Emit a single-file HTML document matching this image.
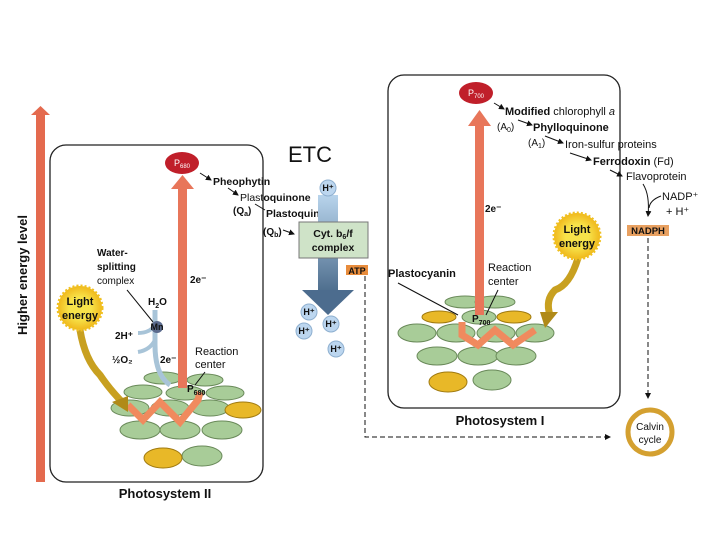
<!DOCTYPE html>
<html><head><meta charset="utf-8"><style>
html,body{margin:0;padding:0;background:#fff;width:720px;height:540px;overflow:hidden}
text{font-family:"Liberation Sans",sans-serif;fill:#111}
.b{font-weight:bold}
</style></head><body>
<svg width="720" height="540" viewBox="0 0 720 540" xmlns="http://www.w3.org/2000/svg">
<defs>
<marker id="ah" markerWidth="6" markerHeight="6" refX="5" refY="3" orient="auto"><path d="M0,0 L6,3 L0,6 z" fill="#111"/></marker>
<linearGradient id="bl" x1="0" y1="0" x2="0" y2="1"><stop offset="0" stop-color="#b8d4ec"/><stop offset="1" stop-color="#4a6a8a"/></linearGradient>
<radialGradient id="sun"><stop offset="0.5" stop-color="#f7e34a"/><stop offset="1" stop-color="#f0b81c"/></radialGradient>
</defs>
<rect x="36" y="114" width="9" height="368" fill="#e46a4e"/>
<path d="M31,115 L40.5,106 L50,115 z" fill="#e46a4e"/>
<text class="b" font-size="13" transform="translate(27,275) rotate(-90)" text-anchor="middle">Higher energy level</text>

<rect x="50" y="145" width="213" height="337" rx="16" fill="none" stroke="#222" stroke-width="1.3"/>
<text class="b" x="165" y="498" font-size="13" text-anchor="middle">Photosystem II</text>
<g stroke="#6a8a5a" stroke-width="1" fill="#a8cc98">
<ellipse cx="163" cy="378" rx="19" ry="6"/><ellipse cx="205" cy="380" rx="18" ry="6"/>
<ellipse cx="143" cy="392" rx="19" ry="7"/><ellipse cx="185" cy="393" rx="19" ry="7"/><ellipse cx="225" cy="393" rx="19" ry="7"/>
<ellipse cx="130" cy="408" rx="19" ry="8"/><ellipse cx="170" cy="408" rx="19" ry="8"/><ellipse cx="210" cy="408" rx="19" ry="8"/>
<ellipse cx="140" cy="430" rx="20" ry="9"/><ellipse cx="180" cy="430" rx="20" ry="9"/><ellipse cx="222" cy="430" rx="20" ry="9"/>
<ellipse cx="202" cy="456" rx="20" ry="10"/>
</g>
<g stroke="#a07a10" fill="#e8b828"><ellipse cx="243" cy="410" rx="18" ry="8"/><ellipse cx="163" cy="458" rx="19" ry="10"/></g>
<path d="M128,405 L143,420 L160,402 L180,422 L198,400 L200,392" fill="none" stroke="#f08a5e" stroke-width="7"/>
<path d="M155,310 L155,345 Q155,375 170,385" fill="none" stroke="#a8c4d8" stroke-width="5"/>
<path d="M155,325 Q150,333 138,333 M155,340 Q150,350 138,352" fill="none" stroke="#a8c4d8" stroke-width="4"/>
<circle cx="157" cy="327" r="6" fill="#5a6a8c"/>
<text class="b" x="157" y="330" font-size="9" text-anchor="middle">Mn</text>
<line x1="127" y1="290" x2="153" y2="322" stroke="#111"/>
<text class="b" x="97" y="256" font-size="10">Water-</text>
<text class="b" x="97" y="270" font-size="10">splitting</text>
<text x="97" y="284" font-size="10">complex</text>
<text class="b" x="148" y="305" font-size="10">H<tspan font-size="7" dy="3">2</tspan><tspan dy="-3">O</tspan></text>
<text class="b" x="115" y="339" font-size="10">2H⁺</text>
<text class="b" x="112" y="363" font-size="10">½O₂</text>
<text class="b" x="160" y="363" font-size="10">2e⁻</text>
<text x="195" y="355" font-size="11">Reaction</text>
<text x="195" y="368" font-size="11">center</text>
<line x1="205" y1="372" x2="195" y2="385" stroke="#111"/>
<rect x="178" y="188" width="9" height="200" fill="#e8765a"/>
<path d="M171,189 L182.5,175 L194,189 z" fill="#e8765a"/>
<text class="b" x="187" y="392" font-size="10">P<tspan font-size="7" dy="3">680</tspan></text>
<text class="b" x="190" y="283" font-size="10">2e⁻</text>
<ellipse cx="182" cy="163" rx="17" ry="11" fill="#c01f2a"/>
<text x="182" y="166" font-size="9" style="fill:#fff" text-anchor="middle">P<tspan font-size="6" dy="2">680</tspan></text>
<path d="M80,330 Q85,360 100,375 Q110,390 125,405" fill="none" stroke="#c8a020" stroke-width="7"/>
<path d="M112,402 L128,396 L128,412 z" fill="#b08a18"/>
<circle cx="80" cy="308" r="22" fill="url(#sun)" stroke="#f0c020" stroke-width="3" stroke-dasharray="2 2"/>
<text class="b" x="80" y="305" font-size="11" text-anchor="middle">Light</text>
<text class="b" x="80" y="319" font-size="11" text-anchor="middle">energy</text>

<text x="288" y="162" font-size="22">ETC</text>
<line x1="200" y1="173" x2="211" y2="180" stroke="#111" marker-end="url(#ah)"/>
<text class="b" x="213" y="185" font-size="10.5">Pheophytin</text>
<line x1="228" y1="188" x2="238" y2="195" stroke="#111" marker-end="url(#ah)"/>
<text x="240" y="201" font-size="10.5">Plast<tspan class="b">oquinone</tspan></text>
<text class="b" x="233" y="214" font-size="10">(Q<tspan font-size="7" dy="2">a</tspan><tspan dy="-2">)</tspan></text>
<line x1="255" y1="204" x2="265" y2="210" stroke="#111"/>
<text class="b" x="266" y="217" font-size="10.5">Plastoquinone</text>
<text class="b" x="263" y="235" font-size="10">(Q<tspan font-size="7" dy="2">b</tspan><tspan dy="-2">)</tspan></text>
<line x1="283" y1="230" x2="294" y2="234" stroke="#111" marker-end="url(#ah)"/>
<rect x="318" y="195" width="20" height="100" fill="url(#bl)"/>
<path d="M302,290 L354,290 L328,315 z" fill="#4c6c8e"/>
<rect x="299" y="222" width="69" height="36" fill="#cfe3c8" stroke="#777"/>
<text class="b" x="333" y="237" font-size="10.5" text-anchor="middle">Cyt. b<tspan font-size="7" dy="2">6</tspan><tspan dy="-2">/f</tspan></text>
<text class="b" x="333" y="251" font-size="10.5" text-anchor="middle">complex</text>
<g fill="#bcd6ef" stroke="#8fb0d0">
<circle cx="328" cy="188" r="8"/><circle cx="309" cy="312" r="8"/><circle cx="331" cy="324" r="8"/><circle cx="304" cy="331" r="8"/><circle cx="336" cy="349" r="8"/>
</g>
<g font-size="9" font-weight="bold" text-anchor="middle">
<text x="328" y="191">H⁺</text><text x="309" y="315">H⁺</text><text x="331" y="327">H⁺</text><text x="304" y="334">H⁺</text><text x="336" y="352">H⁺</text>
</g>
<rect x="346" y="265" width="22" height="10" fill="#e88c3c"/>
<text class="b" x="357" y="274" font-size="9" text-anchor="middle">ATP</text>
<path d="M365,276 L365,437 L610,437" fill="none" stroke="#111" stroke-dasharray="5 3" marker-end="url(#ah)"/>

<rect x="388" y="75" width="232" height="333" rx="16" fill="none" stroke="#222" stroke-width="1.3"/>
<text class="b" x="500" y="425" font-size="13" text-anchor="middle">Photosystem I</text>
<g stroke="#6a8a5a" stroke-width="1" fill="#a8cc98">
<ellipse cx="465" cy="302" rx="20" ry="6"/><ellipse cx="495" cy="302" rx="20" ry="6"/>
<ellipse cx="479" cy="317" rx="17" ry="7"/>
<ellipse cx="417" cy="333" rx="19" ry="9"/><ellipse cx="456" cy="333" rx="19" ry="9"/><ellipse cx="496" cy="333" rx="19" ry="9"/><ellipse cx="535" cy="333" rx="19" ry="9"/>
<ellipse cx="437" cy="356" rx="20" ry="9"/><ellipse cx="478" cy="356" rx="20" ry="9"/><ellipse cx="516" cy="356" rx="20" ry="9"/>
<ellipse cx="492" cy="380" rx="19" ry="10"/>
</g>
<g stroke="#a07a10" fill="#e8b828"><ellipse cx="439" cy="317" rx="17" ry="6"/><ellipse cx="514" cy="317" rx="17" ry="6"/><ellipse cx="448" cy="382" rx="19" ry="10"/></g>
<path d="M462,322 L462,335 L478,345 L495,330 L513,345 L535,330" fill="none" stroke="#f08a5e" stroke-width="7"/>
<rect x="475" y="125" width="9" height="190" fill="#e8765a"/>
<path d="M468,126 L479.5,110 L491,126 z" fill="#e8765a"/>
<text class="b" x="472" y="322" font-size="10">P<tspan font-size="7" dy="3">700</tspan></text>
<text class="b" x="485" y="212" font-size="10">2e⁻</text>
<ellipse cx="476" cy="93" rx="17" ry="11" fill="#c01f2a"/>
<text x="476" y="96" font-size="9" style="fill:#fff" text-anchor="middle">P<tspan font-size="6" dy="2">700</tspan></text>
<text class="b" x="388" y="277" font-size="11">Plastocyanin</text>
<line x1="398" y1="283" x2="458" y2="315" stroke="#111"/>
<text x="488" y="271" font-size="11">Reaction</text>
<text x="488" y="285" font-size="11">center</text>
<line x1="498" y1="290" x2="486" y2="315" stroke="#111"/>
<path d="M578,258 Q570,285 555,290 Q545,300 550,315" fill="none" stroke="#c8a020" stroke-width="7"/>
<path d="M540,312 L558,312 L545,328 z" fill="#b08a18"/>
<circle cx="577" cy="236" r="23" fill="url(#sun)" stroke="#f0c020" stroke-width="3" stroke-dasharray="2 2"/>
<text class="b" x="577" y="233" font-size="11" text-anchor="middle">Light</text>
<text class="b" x="577" y="247" font-size="11" text-anchor="middle">energy</text>

<line x1="494" y1="103" x2="504" y2="109" stroke="#111" marker-end="url(#ah)"/>
<text x="505" y="115" font-size="11"><tspan class="b">Modified</tspan> chlorophyll <tspan font-style="italic">a</tspan></text>
<text x="497" y="130" font-size="10">(A<tspan font-size="7" dy="2">0</tspan><tspan dy="-2">)</tspan></text>
<line x1="518" y1="120" x2="532" y2="125" stroke="#111" marker-end="url(#ah)"/>
<text class="b" x="533" y="131" font-size="11">Phylloquinone</text>
<text x="528" y="146" font-size="10">(A<tspan font-size="7" dy="2">1</tspan><tspan dy="-2">)</tspan></text>
<line x1="545" y1="136" x2="563" y2="143" stroke="#111" marker-end="url(#ah)"/>
<text x="565" y="148" font-size="11">Iron-sulfur proteins</text>
<line x1="570" y1="153" x2="591" y2="160" stroke="#111" marker-end="url(#ah)"/>
<text x="593" y="165" font-size="11"><tspan class="b">Ferrodoxin</tspan> (Fd)</text>
<line x1="610" y1="170" x2="622" y2="176" stroke="#111" marker-end="url(#ah)"/>
<text x="626" y="180" font-size="11">Flavoprotein</text>
<path d="M643,184 Q650,195 648,216" fill="none" stroke="#111" marker-end="url(#ah)"/>
<path d="M661,196 Q650,200 649,208" fill="none" stroke="#111"/>
<text x="662" y="200" font-size="11">NADP⁺</text>
<text x="666" y="215" font-size="11">+ H⁺</text>
<rect x="627" y="225" width="42" height="11" fill="#e8a060"/>
<text class="b" x="648" y="234" font-size="9.5" text-anchor="middle">NADPH</text>
<line x1="648" y1="238" x2="648" y2="398" stroke="#111" stroke-dasharray="5 3" marker-end="url(#ah)"/>
<circle cx="650" cy="432" r="22" fill="#fff" stroke="#d4a030" stroke-width="5"/>
<text x="650" y="430" font-size="10" text-anchor="middle">Calvin</text>
<text x="650" y="443" font-size="10" text-anchor="middle">cycle</text>
</svg>
</body></html>
